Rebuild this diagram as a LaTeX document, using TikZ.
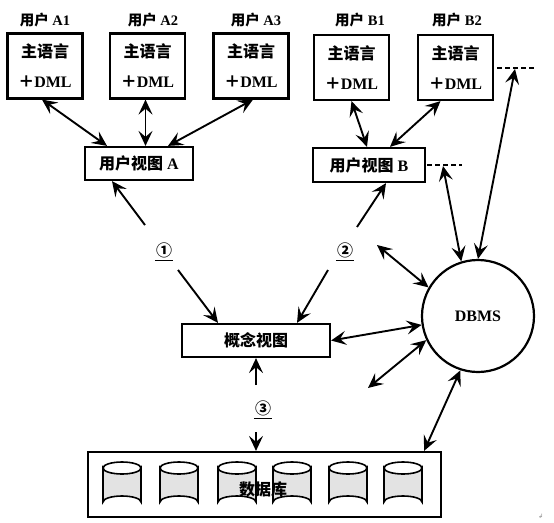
\documentclass[tikz,border=0pt]{standalone}
\usepackage{fontspec}
\setmainfont{Liberation Serif}
\newfontfamily\cjk{Noto Sans CJK SC}
\newfontfamily\dejavu{DejaVu Sans}
\usetikzlibrary{arrows.meta,calc}
\begin{document}
\begin{tikzpicture}[x=1pt,y=-1pt,
  box/.style={draw,line width=2.2pt,minimum width=75pt,minimum height=65pt,inner sep=0pt,align=center,font=\bfseries\fontsize{16}{30}\selectfont},
  vbox/.style={draw,line width=2.2pt,inner sep=0pt,font=\bfseries\fontsize{16}{18}\selectfont},
  lab/.style={font=\bfseries\fontsize{14.5}{16}\selectfont,inner sep=1pt},
  num/.style={font=\cjk\bfseries\fontsize{16}{18}\selectfont,inner sep=1pt},
  hd/.style={Stealth[length=15pt,width=14pt,inset=6pt]},
  arr/.style={line width=1.9pt,-{Stealth[length=15pt,width=14pt,inset=6pt]}},
  darr/.style={line width=1.9pt,{Stealth[length=15pt,width=14pt,inset=6pt]}-{Stealth[length=15pt,width=14pt,inset=6pt]}},
  dline/.style={line width=1.9pt,dash pattern=on 5pt off 3pt},
  cylpath/.style={draw,line width=1.6pt,fill=gray!22}]
\useasboundingbox (0,0) rectangle (554,522);

% top labels
\node[lab] (la1) at (45,20) {{\cjk 用户} A1};
\node[lab] (la2) at (153,20) {{\cjk 用户} A2};
\node[lab] (la3) at (256,20) {{\cjk 用户} A3};
\node[lab] (lb1) at (360,20) {{\cjk 用户} B1};
\node[lab] (lb2) at (457,20) {{\cjk 用户} B2};

% top boxes
\node[box] (a1) at (45,66) {{\cjk 主语言}\\{\cjk ＋}DML};
\node[box] (a2) at (147.5,66) {{\cjk 主语言}\\{\cjk ＋}DML};
\node[box] (a3) at (251,66) {{\cjk 主语言}\\{\cjk ＋}DML};
\node[box] (b1) at (351.5,67.5) {{\cjk 主语言}\\{\cjk ＋}DML};
\node[box] (b2) at (455.5,67.5) {{\cjk 主语言}\\{\cjk ＋}DML};

% user views
\node[vbox,minimum width=108pt,minimum height=33pt] (uva) at (139,163.5) {{\cjk 用户视图} A};
\node[vbox,minimum width=112pt,minimum height=34pt] (uvb) at (369,165) {{\cjk 用户视图} B};

% concept view
\node[vbox,minimum width=148pt,minimum height=33pt] (cv) at (256,340.5) {\cjk 概念视图};

% DBMS
\node[draw,circle,line width=2.2pt,minimum size=112pt,inner sep=0pt,font=\bfseries\fontsize{16}{18}\selectfont] (dbms) at (478,316) {DBMS};

% database
\node[draw,line width=2.2pt,minimum width=353pt,minimum height=65pt,inner sep=0pt] (db) at (264.5,484.5) {};
\foreach \x in {122,179,237,292,348,403}{
  \path[cylpath] (\x-19,468) -- (\x-19,502)
     arc[start angle=180,end angle=360,x radius=19,y radius=6]
     -- (\x+19,468)
     arc[start angle=0,end angle=180,x radius=19,y radius=6] -- cycle;
  \draw[line width=1.6pt] (\x-19,468) arc[start angle=180,end angle=360,x radius=19,y radius=6];
}
\node[font=\cjk\bfseries\fontsize{16}{18}\selectfont] (dbt) at (263,489) {数据库};

% circled numbers
\node[num] (n1) at (164,250) {①};
\node[num] (n2) at (345,250) {②};
\node[num] (n3) at (263,408) {③};
\draw[line width=1.2pt] ([yshift=-2pt]n1.south west) -- ([yshift=-2pt]n1.south east);
\draw[line width=1.2pt] ([yshift=-2pt]n2.south west) -- ([yshift=-2pt]n2.south east);
\draw[line width=1.2pt] ([yshift=-2pt]n3.south west) -- ([yshift=-2pt]n3.south east);

% dashed stubs
\coordinate (ds1) at ([xshift=1pt]uvb.east);
\coordinate (de1) at (462,165);
\draw[dline] (ds1) -- (de1);
\coordinate (ds2) at (497,68);
\coordinate (de2) at (535,68);
\draw[dline] (ds2) -- (de2);

% user boxes to views
\draw[darr] ([xshift=-3pt]a1.south) -- ([xshift=-32pt]uva.north);
\coordinate (a2s) at ([xshift=-2pt]a2.south);
\draw[darr] (a2s) -- (a2s |- uva.north);
\draw[darr] ([xshift=2pt]a3.south) -- ([xshift=29pt]uva.north);
\draw[darr] (b1.south) -- ([xshift=-2pt]uvb.north);
\draw[darr] ([xshift=-15pt]b2.south) -- ([xshift=21pt]uvb.north);

% numbered arrows
\coordinate (p1u) at (145,225);
\draw[arr] (p1u) -- ([xshift=-27pt]uva.south);
\coordinate (p1d) at (178,270);
\draw[arr] (p1d) -- ([xshift=-38pt]cv.north);
\coordinate (p2u) at (357,227);
\draw[arr] (p2u) -- ([xshift=17pt]uvb.south);
\coordinate (p2d) at (328,270);
\draw[arr] (p2d) -- ([xshift=41pt]cv.north);
\coordinate (p3u) at (256,385);
\draw[arr] (p3u) -- (p3u |- cv.south);
\coordinate (p3d) at (256,432);
\draw[arr] (p3d) -- (p3d |- db.north);

% DBMS connections
\draw[darr] (cv.east) -- (dbms.189);
\coordinate (f1) at (377,245);
\draw[darr] (f1) -- (dbms.150);
\coordinate (f2) at (368,388);
\draw[darr] (f2) -- (dbms.205);
\coordinate (t1) at (443,166);
\draw[darr] (t1) -- (dbms.107);
\coordinate (t2) at (515,69);
\draw[darr] (t2) -- (dbms.90);
\draw[darr] (dbms.252) -- ([xshift=-18pt]db.north east);

% paragraph mark
\node[font=\dejavu\fontsize{6}{6}\selectfont,text=gray,inner sep=0pt] (pm) at (541,516) {↲};
\end{tikzpicture}
\end{document}
